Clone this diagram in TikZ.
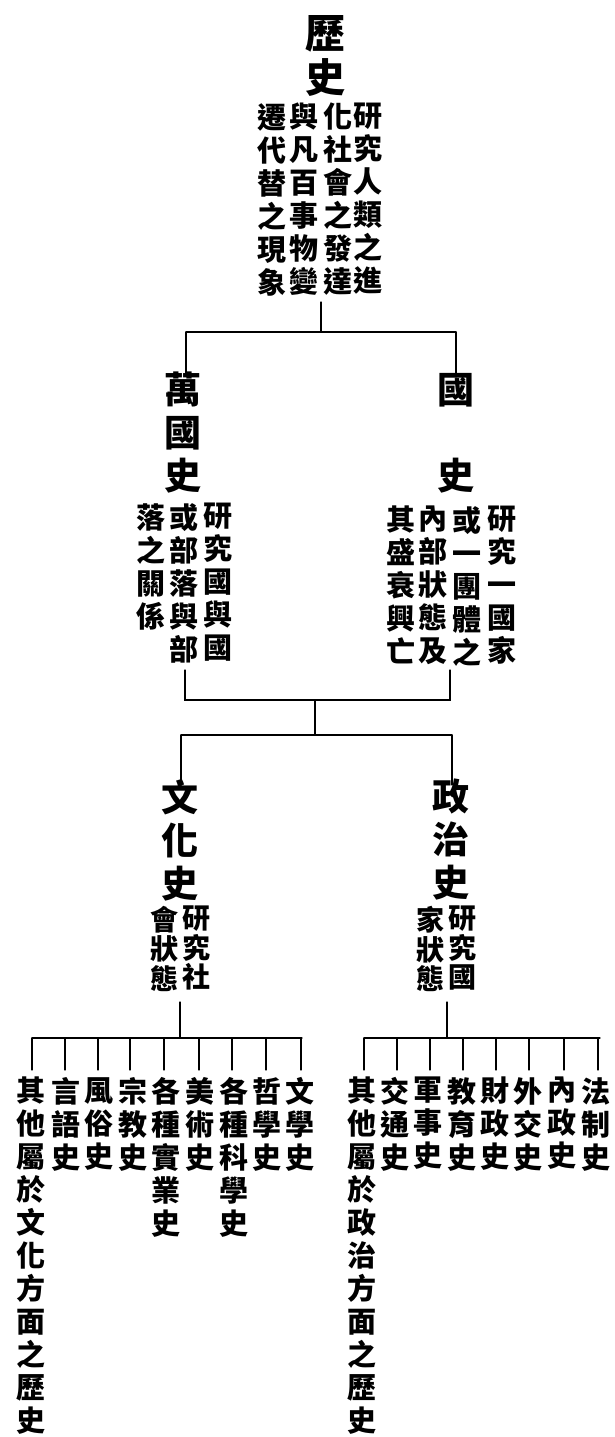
\documentclass[tikz,border=0pt]{standalone}
\usepackage{fontspec}
\newfontfamily\cjk{Noto Sans CJK TC}
\begin{document}
\begin{tikzpicture}[x=1pt,y=-1pt,
  big/.style={font=\fontsize{40}{44}\selectfont\cjk\bfseries, align=center, inner sep=0pt, anchor=north},
  mid/.style={font=\fontsize{37}{43}\selectfont\cjk\bfseries, align=center, inner sep=0pt, anchor=north},
  desc/.style={font=\fontsize{29}{33}\selectfont\cjk\bfseries, align=center, inner sep=0pt, anchor=north},
  sdesc/.style={font=\fontsize{28}{29.5}\selectfont\cjk\bfseries, align=center, inner sep=0pt, anchor=north},
  leaf/.style={font=\fontsize{29}{33}\selectfont\cjk\bfseries, align=center, inner sep=0pt, anchor=north},
  conn/.style={line width=1.1pt, line cap=round}]
\useasboundingbox (0,0) rectangle (614,1437);

% ---- root ----
\node[big] (root) at (325,15) {歷\\史};
\node[desc] (r1) at (368,103) {研\\究\\人\\類\\之\\進};
\node[desc] (r2) at (338,103) {化\\社\\會\\之\\發\\達};
\node[desc] (r3) at (304,103) {與\\凡\\百\\事\\物\\變};
\node[desc] (r4) at (272,103) {遷\\代\\替\\之\\現\\象};

% ---- level 2 ----
\node[mid] (wg) at (183,372) {萬\\國\\史};
\node[desc] (w1) at (218,503) {研\\究\\國\\與\\國};
\node[desc] (w2) at (184,503) {或\\部\\落\\與\\部};
\node[desc] (w3) at (151,503) {落\\之\\關\\係};

\node[mid] (gs) at (456,373) {國\\\phantom{國}\\史};
\node[desc] (g1) at (502,506) {研\\究\\一\\國\\家};
\node[desc] (g2) at (467,506) {或\\一\\團\\體\\之};
\node[desc] (g3) at (433,506) {內\\部\\狀\\態\\及};
\node[desc] (g4) at (401,506) {其\\盛\\衰\\興\\亡};

% ---- level 3 ----
\node[mid] (wh) at (180,779) {文\\化\\史};
\node[sdesc] (wh1) at (196,906) {研\\究\\社};
\node[sdesc] (wh2) at (164,906) {會\\狀\\態};

\node[mid] (zz) at (451,779) {政\\治\\史};
\node[sdesc] (zz1) at (462,906) {研\\究\\國};
\node[sdesc] (zz2) at (430,906) {家\\狀\\態};

% ---- leaves (culture) ----
\node[leaf] (c1) at (300,1077) {文\\學\\史};
\node[leaf] (c2) at (267,1077) {哲\\學\\史};
\node[leaf] (c3) at (234,1077) {各\\種\\科\\學\\史};
\node[leaf] (c4) at (200,1077) {美\\術\\史};
\node[leaf] (c5) at (166,1077) {各\\種\\實\\業\\史};
\node[leaf] (c6) at (133,1077) {宗\\教\\史};
\node[leaf] (c7) at (99,1077) {風\\俗\\史};
\node[leaf] (c8) at (66,1077) {言\\語\\史};
\node[leaf] (c9) at (31,1077) {其\\他\\屬\\於\\文\\化\\方\\面\\之\\歷\\史};

% ---- leaves (politics) ----
\node[leaf] (p1) at (596,1077) {法\\制\\史};
\node[leaf] (p2) at (562,1077) {內\\政\\史};
\node[leaf] (p3) at (528,1077) {外\\交\\史};
\node[leaf] (p4) at (495,1077) {財\\政\\史};
\node[leaf] (p5) at (462,1077) {教\\育\\史};
\node[leaf] (p6) at (428,1077) {軍\\事\\史};
\node[leaf] (p7) at (395,1077) {交\\通\\史};
\node[leaf] (p8) at (362,1077) {其\\他\\屬\\於\\政\\治\\方\\面\\之\\歷\\史};

% ---- junctions ----
\coordinate (a0) at (321,302);
\coordinate (a1) at (321,332);
\coordinate (aL) at (186,332);
\coordinate (aR) at (456,332);

\coordinate (bL0) at (185,670);
\coordinate (bR0) at (450,670);
\coordinate (bL) at (185,700);
\coordinate (bR) at (450,700);
\coordinate (b1) at (315,700);
\coordinate (b2) at (315,735);
\coordinate (cL) at (181,735);
\coordinate (cR) at (452,735);

\coordinate (dL0) at (180,1002);
\coordinate (dL) at (180,1038);
\coordinate (eL) at (32,1038);
\coordinate (fL) at (302,1038);
\coordinate (dR0) at (447,1002);
\coordinate (dR) at (447,1038);
\coordinate (eR) at (364,1038);
\coordinate (fR) at (600,1038);

% ---- connectors ----
\draw[conn] (a0) -- (a1);
\draw[conn] (aL) -- (aR);
\draw[conn] (aL) -- ([yshift=-4pt]aL |- wg.north);
\draw[conn] (aR) -- ([yshift=-4pt]aR |- gs.north);

\draw[conn] (bL0) -- (bL) -- (bR) -- (bR0);
\draw[conn] (b1) -- (b2);
\draw[conn] (cL) -- (cR);
\draw[conn] (cL) -- ([yshift=-6pt]cL |- wh.north);
\draw[conn] (cR) -- ([yshift=-6pt]cR |- zz.north);

\draw[conn] (dL0) -- (dL);
\draw[conn] (eL) -- (fL);
\draw[conn] (dR0) -- (dR);
\draw[conn] (eR) -- (fR);

\foreach \n/\x in {c1/301,c2/266,c3/232,c4/199,c5/164,c6/130,c7/98,c8/65,c9/32}
  \draw[conn] (\x,1038) -- (\x,1070);
\foreach \n/\x in {p1/598,p2/564,p3/529,p4/496,p5/463,p6/430,p7/397,p8/364}
  \draw[conn] (\x,1038) -- (\x,1070);
\end{tikzpicture}
\end{document}
